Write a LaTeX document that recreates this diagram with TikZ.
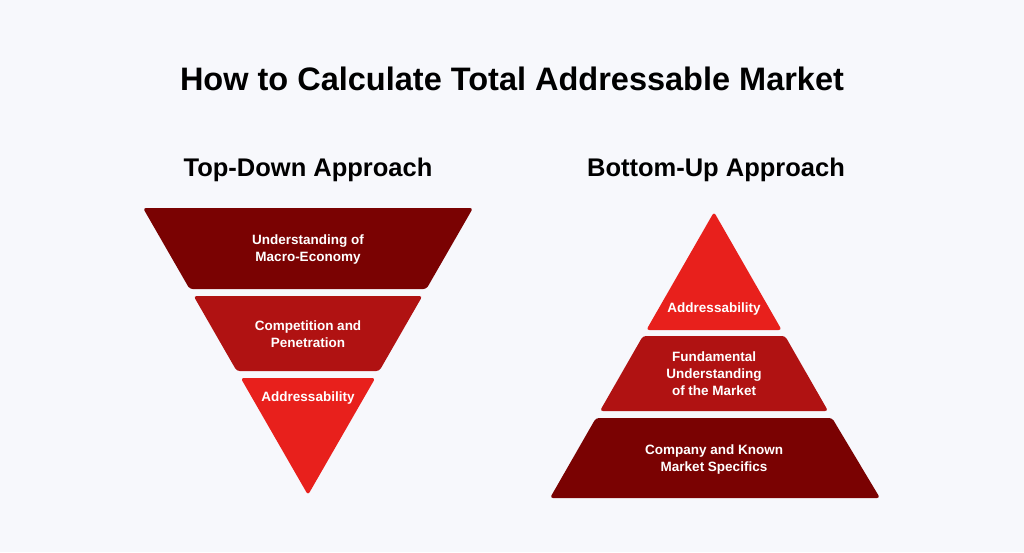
\documentclass[tikz,border=0pt]{standalone}
\usepackage{fontspec}
\setmainfont{Liberation Sans}
\definecolor{bg}{HTML}{F7F8FC}
\definecolor{cdark}{HTML}{7A0202}
\definecolor{cmid}{HTML}{B01212}
\definecolor{clight}{HTML}{E8201C}
\tikzset{band/.style={rounded corners=3pt},
  lbl/.style={text=white,font=\bfseries\fontsize{13.5}{17}\selectfont,align=center},
  head/.style={font=\bfseries\fontsize{25.5}{30}\selectfont,text=black}}
\begin{document}
\begin{tikzpicture}[x=1pt,y=-1pt]
\fill[bg] (0,0) rectangle (1024,552);
\useasboundingbox (0,0) rectangle (1024,552);
\node[font=\bfseries\fontsize{32.5}{38}\selectfont] (title) at (512,79) {How to Calculate Total Addressable Market};
\node[head] (h1) at (308,170) {Top-Down Approach};
\node[head] (h2) at (716,170) {Bottom-Up Approach};
% left inverted
\fill[cdark,band] (143,208) -- (473,208) -- (426.4,289) -- (189.6,289) -- cycle;
\fill[cmid,band] (193.6,296) -- (422.4,296) -- (379.3,371) -- (236.7,371) -- cycle;
\fill[clight,band] (240.7,378) -- (375.3,378) -- (308,495) -- cycle;
\node[lbl] (l1) at (308,250) {Understanding of\\Macro-Economy};
\node[lbl] (l2) at (308,334) {Competition and\\Penetration};
\node[lbl] (l3) at (308,398) {Addressability};
% right pyramid
\fill[clight,band] (714,212) -- (781.7,330) -- (646.3,330) -- cycle;
\fill[cmid,band] (642.9,336) -- (785.1,336) -- (828.1,411) -- (599.9,411) -- cycle;
\fill[cdark,band] (595.9,418) -- (832.1,418) -- (880,498) -- (550,498) -- cycle;
\node[lbl] (r1) at (714,309) {Addressability};
\node[lbl] (r2) at (714,374) {Fundamental\\Understanding\\of the Market};
\node[lbl] (r3) at (714,459) {Company and Known\\Market Specifics};
\end{tikzpicture}
\end{document}
